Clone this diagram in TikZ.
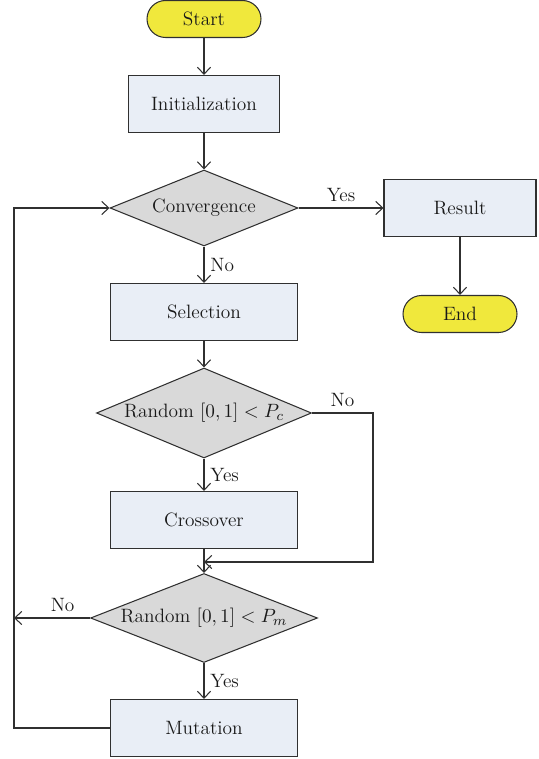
\documentclass[tikz,border=0pt]{standalone}
\usetikzlibrary{shapes.geometric,arrows.meta}
\definecolor{linec}{RGB}{48,48,48}
\definecolor{textc}{RGB}{25,25,25}
\definecolor{boxfill}{RGB}{233,238,246}
\definecolor{condfill}{RGB}{217,217,217}
\definecolor{termfill}{RGB}{240,232,60}

\begin{document}
\begin{tikzpicture}[x=0.02cm,y=-0.02cm,>={Straight Barb[length=4pt,width=7.5pt]},semithick,auto,color=linec,
  every node/.style={font=\fontsize{11}{13}\selectfont,text=textc},
  term/.style={rectangle,rounded corners=3.7mm,draw=linec,fill=termfill,minimum width=2.28cm,minimum height=0.74cm},
  proc/.style={rectangle,draw=linec,fill=boxfill,minimum width=3.02cm,minimum height=1.14cm},
  cond/.style={diamond,aspect=2.4,inner sep=0pt,draw=linec,fill=condfill}]

\useasboundingbox (0,0) rectangle (538,759);

\node[term] (start) at (204,19) {Start};
\node[proc] (init) at (204,104) {Initialization};
\node[cond,minimum width=3.76cm,minimum height=1.52cm] (conv) at (204,208) {Convergence};
\node[proc,minimum width=3.04cm] (res) at (460,208) {Result};
\node[term] (end) at (460,314) {End};
\node[proc,minimum width=3.74cm] (sel) at (204,312) {Selection};
\node[cond,minimum width=4.3cm,minimum height=1.8cm] (rc) at (204,413) {Random $[0,1] < P_c$};
\node[proc,minimum width=3.74cm] (cross) at (204,520) {Crossover};
\node[cond,minimum width=4.54cm,minimum height=1.78cm] (rm) at (204,618) {Random $[0,1] < P_m$};
\node[proc,minimum width=3.74cm] (mut) at (204,728) {Mutation};

\coordinate (join) at (204,562);
\coordinate (nobend) at (373,413);
\coordinate (loopin) at (14,618);
\coordinate (lbot) at (14,728);
\coordinate (ltop) at (14,208);

\path[->] (start) edge (init)
          (init) edge (conv)
          (conv) edge node {Yes} (res)
          (res) edge (end)
          (conv) edge node {No} (sel)
          (sel) edge (rc)
          (rc) edge node {Yes} (cross)
          (rm) edge node {Yes} (mut);

% crossover skipped
\draw[->] (rc.east) -- node {No} (nobend) |- (join);
\draw[->] (cross) -- (rm);

% back to the test
\draw[->] (rm.west) -- node[above,pos=0.36] {No} (loopin);
\draw[->] (mut.west) -- (lbot) -- (ltop) -- (conv.west);

\end{tikzpicture}
\end{document}
